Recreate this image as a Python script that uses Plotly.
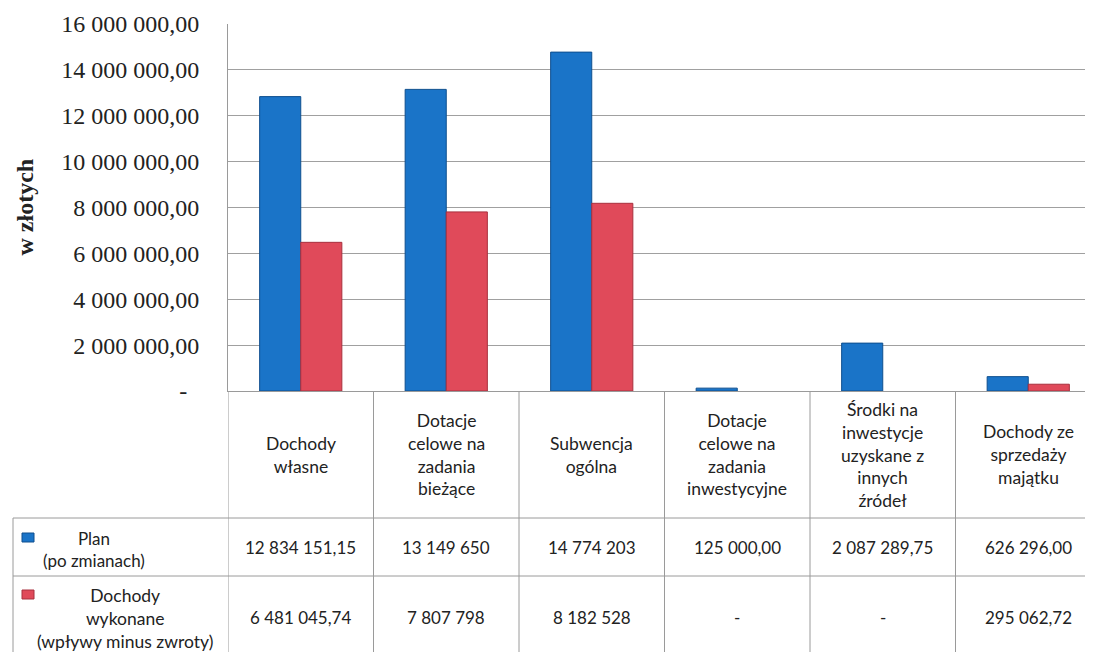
import plotly.graph_objects as go

categories = [
    "Dochody<br>własne",
    "Dotacje<br>celowe na<br>zadania<br>bieżące",
    "Subwencja<br>ogólna",
    "Dotacje<br>celowe na<br>zadania<br>inwestycyjne",
    "Środki na<br>inwestycje<br>uzyskane z<br>innych<br>źródeł",
    "Dochody ze<br>sprzedaży<br>majątku",
]
plan_values = [12834151.15, 13149650, 14774203, 125000.00, 2087289.75, 626296.00]
actual_values = [6481045.74, 7807798, 8182528, None, None, 295062.72]
plan_labels = ["12 834 151,15", "13 149 650", "14 774 203", "125 000,00", "2 087 289,75", "626 296,00"]
actual_labels = ["6 481 045,74", "7 807 798", "8 182 528", "-", "-", "295 062,72"]
series_names = ["Plan", "Dochody wykonane"]
y_tickvals = [0, 2e6, 4e6, 6e6, 8e6, 10e6, 12e6, 14e6, 16e6]
y_ticktext = ["-\u00a0\u00a0", "2 000 000,00", "4 000 000,00", "6 000 000,00", "8 000 000,00",
              "10 000 000,00", "12 000 000,00", "14 000 000,00", "16 000 000,00"]

BLUE = "#1a74c8"
BLUE_EDGE = "#0e4f8e"
RED = "#e04a5a"
RED_EDGE = "#a8303e"
LINE = "#9a9a9a"
TXT = "#222222"
SANS = "Lato, 'Open Sans', sans-serif"
SERIF = "'Liberation Serif', 'Times New Roman', serif"

# page offset (body margin) in the browser
OFF = 8
W, H = 1093 - OFF, 652 - OFF
ML = 228 - OFF
MT = 24 - OFF
PLOT_BOTTOM = 391 - OFF
MB = H - PLOT_BOTTOM
plot_h = PLOT_BOTTOM - MT
plot_w = W - ML


def py(ref_pix):
    """reference-image pixel y -> paper y"""
    return (PLOT_BOTTOM - (ref_pix - OFF)) / plot_h


def px(ref_pix):
    """reference-image pixel x -> paper x"""
    return ((ref_pix - OFF) - ML) / plot_w


xs = list(range(len(categories)))

fig = go.Figure()
fig.add_trace(go.Bar(x=xs, y=plan_values, name=series_names[0],
                     marker=dict(color=BLUE, line=dict(color=BLUE_EDGE, width=1))))
fig.add_trace(go.Bar(x=xs, y=actual_values, name=series_names[1],
                     marker=dict(color=RED, line=dict(color=RED_EDGE, width=1))))

col_w_px = 145.5
x_max = -0.5 + plot_w / col_w_px

fig.update_layout(
    width=W, height=H,
    margin=dict(l=ML, r=0, t=MT, b=MB, pad=0),
    paper_bgcolor="white", plot_bgcolor="white",
    showlegend=False,
    barmode="group", bargap=0.435, bargroupgap=0,
    xaxis=dict(range=[-0.5, x_max], showticklabels=False, showgrid=False,
               zeroline=False, showline=True, linecolor=LINE, linewidth=1,
               fixedrange=True),
    yaxis=dict(range=[0, 16e6], tickvals=y_tickvals, ticktext=y_ticktext,
               showgrid=True, gridcolor="#a0a0a0", gridwidth=1,
               zeroline=False, showline=True, linecolor=LINE, linewidth=1,
               ticks="", ticklabelstandoff=23,
               tickfont=dict(family=SERIF, size=24, color=TXT)),
)

annotations = []
annotations.append(dict(text="<b>w złotych</b>", xref="paper", yref="paper",
                        x=px(24), y=0.5, xanchor="center", yanchor="middle",
                        textangle=-90, showarrow=False,
                        font=dict(family=SERIF, size=24, color=TXT)))

header_y = py(455)
plan_y = py(547)
act_y = py(617)
for i, cat in enumerate(categories):
    annotations.append(dict(text=cat, xref="x", yref="paper", x=i, y=header_y,
                            xanchor="center", yanchor="middle", showarrow=False,
                            font=dict(family=SANS, size=17.5, color=TXT)))
    annotations.append(dict(text=plan_labels[i], xref="x", yref="paper", x=i, y=plan_y,
                            xanchor="center", yanchor="middle", showarrow=False,
                            font=dict(family=SANS, size=17, color=TXT)))
    annotations.append(dict(text=actual_labels[i], xref="x", yref="paper", x=i, y=act_y,
                            xanchor="center", yanchor="middle", showarrow=False,
                            font=dict(family=SANS, size=17, color=TXT)))

annotations.append(dict(text="Plan<br>(po zmianach)", xref="paper", yref="paper",
                        x=px(94), y=py(549), xanchor="center", yanchor="middle",
                        showarrow=False, font=dict(family=SANS, size=17, color=TXT)))
annotations.append(dict(text="Dochody<br>wykonane<br>(wpływy minus zwroty)", xref="paper", yref="paper",
                        x=px(125), y=py(618), xanchor="center", yanchor="middle",
                        showarrow=False, font=dict(family=SANS, size=17.5, color=TXT)))
fig.update_layout(annotations=annotations)

shapes = []
bottom = py(670)
for i in range(len(categories)):
    shapes.append(dict(type="line", xref="x", yref="paper", x0=i - 0.5, x1=i - 0.5,
                       y0=0, y1=bottom, line=dict(color=LINE, width=1)))
for yy in (518, 576):
    shapes.append(dict(type="line", xref="paper", yref="paper", x0=px(13), x1=1,
                       y0=py(yy), y1=py(yy), line=dict(color=LINE, width=1)))
shapes.append(dict(type="line", xref="paper", yref="paper", x0=px(13), x1=px(13),
                   y0=py(518), y1=bottom, line=dict(color=LINE, width=1)))
shapes.append(dict(type="rect", xref="paper", yref="paper", x0=px(22), x1=px(34),
                   y0=py(542), y1=py(533), fillcolor=BLUE, line=dict(color=BLUE_EDGE, width=1)))
shapes.append(dict(type="rect", xref="paper", yref="paper", x0=px(22), x1=px(34),
                   y0=py(599), y1=py(590), fillcolor=RED, line=dict(color=RED_EDGE, width=1)))
fig.update_layout(shapes=shapes)

fig.write_html("out.html")
